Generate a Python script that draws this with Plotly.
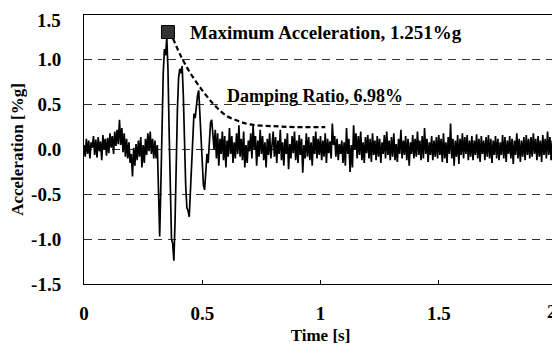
import numpy as np
import plotly.graph_objects as go

# ---- data ----
DT = 0.005
accel = [
    0.05, -0.08, 0.12, -0.05, 0.10, -0.10, 0.08, 0.02, 0.15, -0.06,
    0.11, -0.09, 0.14, -0.02, 0.09, -0.12, 0.16, 0.00, 0.12, -0.07,
    0.13, -0.04, 0.18, 0.02, 0.15, -0.05, 0.20, 0.04, 0.22, 0.06,
    0.33, 0.05, 0.24, -0.03, 0.18, -0.08, 0.12, -0.10, 0.08, -0.15,
    -0.05, -0.30, 0.02, -0.18, 0.06, -0.12, 0.10, -0.08, 0.14, -0.20,
    0.05, -0.15, 0.12, -0.06, 0.18, -0.02, 0.20, -0.05, 0.12, -0.10,
    0.10, -0.10, 0.05, -0.50, -0.97, -0.40, 0.30, 0.85, 1.12, 1.05,
    1.251, 0.90, 0.20, -0.50, -1.00, -1.05, -1.24, -0.80, -0.10, 0.45,
    0.80, 0.90, 0.85, 0.93, 0.60, 0.05, -0.40, -0.65, -0.68, -0.75,
    -0.45, -0.05, 0.25, 0.40, 0.35, 0.50, 0.60, 0.66, 0.40, 0.00,
    -0.25, -0.40, -0.45, -0.20, -0.05, -0.15, 0.10, 0.30, 0.33, 0.10,
    0.00, 0.22, -0.10, 0.18, -0.18, 0.12, -0.05, 0.20, -0.12, 0.15,
    -0.20, 0.10, -0.08, 0.24, -0.05, 0.15, -0.15, 0.08, -0.10, 0.18,
    -0.05, 0.27, -0.08, 0.12, -0.12, 0.20, -0.20, 0.05, -0.15, 0.10,
    -0.02, 0.18, -0.10, 0.27, 0.00, 0.15, -0.18, 0.10, -0.08, 0.22,
    -0.05, 0.15, -0.12, 0.08, -0.20, 0.12, -0.06, 0.18, -0.10, 0.05,
    0.20, -0.08, 0.14, -0.15, 0.10, -0.05, 0.22, -0.12, 0.08, -0.18,
    0.12, -0.05, 0.18, -0.22, 0.06, -0.10, 0.15, -0.04, 0.20, -0.12,
    0.10, -0.15, 0.16, -0.06, 0.12, -0.26, 0.05, -0.10, 0.18, -0.08,
    0.14, -0.12, 0.08, -0.18, 0.15, -0.05, 0.20, -0.10, 0.12, -0.06,
    0.15, -0.12, 0.10, -0.08, 0.18, -0.15, 0.12, -0.04, 0.09, -0.10,
    0.29, 0.05, 0.15, -0.08, 0.12, -0.12, 0.06, -0.05, 0.10, -0.15,
    0.08, -0.18, 0.24, -0.05, 0.12, -0.25, 0.05, -0.20, 0.27, 0.00,
    0.18, -0.10, 0.15, -0.06, 0.20, -0.12, 0.08, -0.15, 0.14, -0.04,
    0.16, -0.10, 0.12, -0.14, 0.18, -0.06, 0.10, -0.12, 0.15, -0.08,
    0.12, -0.15, 0.08, -0.05, 0.16, -0.10, 0.20, -0.06, 0.10, -0.12,
    0.14, -0.08, 0.18, -0.12, 0.06, -0.14, 0.12, -0.05, 0.22, -0.10,
    0.10, -0.06, 0.15, -0.12, 0.12, -0.18, 0.08, -0.05, 0.16, -0.10,
    0.12, -0.08, 0.20, -0.06, 0.10, -0.12, 0.15, -0.10, 0.24, -0.05,
    0.12, -0.14, 0.08, -0.06, 0.15, -0.12, 0.10, -0.08, 0.14, -0.10,
    0.16, -0.06, 0.12, -0.14, 0.18, -0.10, 0.08, -0.15, 0.14, -0.05,
    0.29, -0.10, 0.12, -0.18, 0.10, -0.08, 0.16, -0.16, 0.12, -0.06,
    0.18, -0.10, 0.14, -0.05, 0.16, -0.12, 0.10, -0.08, 0.15, -0.12,
    0.10, -0.06, 0.17, -0.10, 0.12, -0.14, 0.15, -0.05, 0.10, -0.12,
    0.14, -0.08, 0.16, -0.10, 0.12, -0.15, 0.10, -0.06, 0.15, -0.10,
    0.12, -0.12, 0.08, -0.06, 0.16, -0.10, 0.14, -0.14, 0.10, -0.05,
    0.15, -0.10, 0.12, -0.16, 0.10, -0.06, 0.18, -0.10, 0.12, -0.14,
    0.10, -0.08, 0.14, -0.12, 0.16, -0.06, 0.12, -0.10, 0.14, -0.08,
    0.18, -0.05, 0.12, -0.12, 0.15, -0.08, 0.10, -0.14, 0.16, -0.06,
    0.12, -0.10, 0.20, -0.06, 0.14, -0.12, 0.10, -0.08, 0.18, -0.04,
    0.10,
]
time = [round(i * DT, 3) for i in range(len(accel))]

# damping envelope (dashed curve)
env_t = [0.376, 0.41, 0.45, 0.50, 0.55, 0.60, 0.65, 0.70, 0.80, 0.90, 1.02]
env_a = [1.24, 1.04, 0.85, 0.66, 0.50, 0.38, 0.32, 0.28, 0.26, 0.25, 0.25]

# maximum marker
mark_t = [0.355]
mark_a = [1.31]

ytick_vals = [-1.5, -1.0, -0.5, 0.0, 0.5, 1.0, 1.5]
ytick_text = ["-1.5", "-1.0", "-0.5", "0.0", "0.5", "1.0", "1.5"]
xtick_vals = [0, 0.5, 1, 1.5, 2]
xtick_text = ["0", "0.5", "1", "1.5", "2"]

FONT = "Liberation Serif, Times New Roman, serif"
TICK_SIZE = 19
X_STANDOFF = 12
Y_STANDOFF = 18

fig = go.Figure()
fig.add_trace(go.Scatter(x=time, y=accel, mode="lines",
                         line=dict(color="black", width=1.7), showlegend=False))
fig.add_trace(go.Scatter(x=env_t, y=env_a, mode="lines",
                         line=dict(color="black", width=2.2, dash="5px,3px", shape="spline"),
                         showlegend=False))
fig.add_trace(go.Scatter(x=mark_t, y=mark_a, mode="markers",
                         marker=dict(symbol="square", size=13, color="#333333",
                                     line=dict(color="black", width=1)),
                         showlegend=False))

fig.add_annotation(x=0.44, y=1.31, xref="x", yref="y", xanchor="left", yanchor="middle",
                   text="Maximum Acceleration, 1.251%g", showarrow=False,
                   font=dict(family=FONT, size=19, color="black", weight="bold"))
fig.add_annotation(x=0.596, y=0.60, xref="x", yref="y", xanchor="left", yanchor="middle",
                   text="Damping Ratio, 6.98%", showarrow=False,
                   font=dict(family=FONT, size=18, color="black", weight="bold"))
# edge tick labels (Plotly drops labels on the page edge), drawn as text
fig.add_annotation(x=xtick_vals[-1], y=0, xref="x", yref="paper",
                   xanchor="right", yanchor="top", xshift=2, yshift=-(X_STANDOFF + 3),
                   text=xtick_text[-1], showarrow=False,
                   font=dict(family=FONT, size=TICK_SIZE, color="black", weight="bold"))
fig.add_annotation(x=0, y=1, xref="paper", yref="paper",
                   xanchor="right", yanchor="top", xshift=-(Y_STANDOFF + 3), yshift=7,
                   text=ytick_text[-1], showarrow=False,
                   font=dict(family=FONT, size=TICK_SIZE, color="black", weight="bold"))

# page body adds an 8px margin, so the figure is 8px smaller than the window
fig.update_layout(
    width=552, height=341,
    margin=dict(l=76, r=3, t=7, b=65),
    paper_bgcolor="white", plot_bgcolor="white",
    font=dict(family=FONT, size=TICK_SIZE, color="black", weight="bold"),
)
fig.update_xaxes(range=[0, 2], tickvals=xtick_vals[:-1], ticktext=xtick_text[:-1],
                 showgrid=False, zeroline=False, automargin=False,
                 showline=True, linecolor="black", linewidth=1, mirror=True,
                 ticks="inside", ticklen=4, tickcolor="black",
                 ticklabelstandoff=X_STANDOFF,
                 title=dict(text="Time [s]", font=dict(family=FONT, size=17, weight="bold"),
                            standoff=6))
fig.update_yaxes(range=[-1.5, 1.5], tickvals=ytick_vals[:-1], ticktext=ytick_text[:-1],
                 showgrid=True, gridcolor="#333333", gridwidth=1, griddash="8px,6px",
                 zeroline=False, automargin=False,
                 showline=True, linecolor="black", linewidth=1, mirror=True,
                 ticks="", ticklabelstandoff=Y_STANDOFF,
                 title=dict(text="Acceleration [%g]", font=dict(family=FONT, size=17, weight="bold"),
                            standoff=7))

fig.write_html("out.html")
